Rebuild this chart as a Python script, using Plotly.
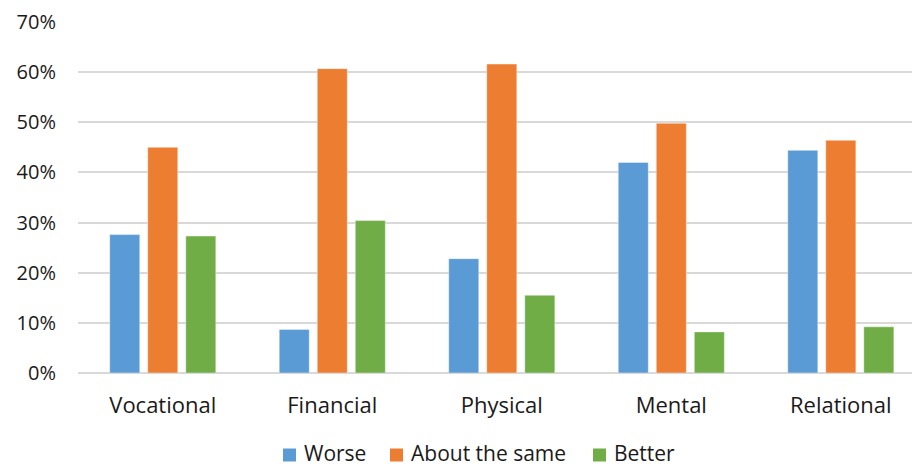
import plotly.graph_objects as go

categories = ["Vocational", "Financial", "Physical", "Mental", "Relational"]
worse = [0.276, 0.087, 0.228, 0.420, 0.444]
same = [0.450, 0.607, 0.616, 0.498, 0.464]
better = [0.273, 0.304, 0.155, 0.082, 0.092]
series_names = ["Worse", "About the same", "Better"]
colors = ["#5B9BD5", "#ED7D31", "#70AD47"]
y_ticks = [0, 0.1, 0.2, 0.3, 0.4, 0.5, 0.6, 0.7]
y_tick_labels = ["0%", "10%", "20%", "30%", "40%", "50%", "60%", "70%"]

FONT = "Open Sans"
W, H = 912, 468
ML, MR, MT, MB = 78, 0, 22, 95
PW, PH = W - ML - MR, H - MT - MB


def px_x(px):
    return (px - ML) / PW


def px_y(py):
    return (H - MB - py) / PH


fig = go.Figure()
for name, vals, col in zip(series_names, [worse, same, better], colors):
    fig.add_trace(go.Bar(
        x=list(range(len(categories))), y=vals, name=name,
        marker=dict(color=col, line=dict(width=0.8, color="rgba(255,255,255,0.5)")),
        showlegend=False,
    ))

# legend drawn as shapes + text
legend_sq_x = [283, 390, 593]
legend_text_x = [303, 410, 613]
legend_cy = 455
for name, col, sx, tx in zip(series_names, colors, legend_sq_x, legend_text_x):
    fig.add_shape(type="rect", xref="paper", yref="paper",
                  x0=px_x(sx), x1=px_x(sx + 13),
                  y0=px_y(legend_cy + 6.5), y1=px_y(legend_cy - 6.5),
                  fillcolor=col, line=dict(width=0))
    fig.add_annotation(xref="paper", yref="paper", x=px_x(tx), y=px_y(H - 0.5),
                       xanchor="left", yanchor="bottom", showarrow=False,
                       borderpad=0, text=name,
                       font=dict(size=21, color="#1a1a1a"))

fig.update_layout(
    width=W, height=H,
    margin=dict(l=ML, r=MR, t=MT, b=MB),
    paper_bgcolor="white", plot_bgcolor="white",
    barmode="group", bargap=0.327, bargroupgap=0.21,
    font=dict(family=FONT, size=20, color="#1a1a1a"),
    showlegend=False,
    xaxis=dict(
        range=[-0.5, 4.42], tickmode="array",
        tickvals=list(range(len(categories))), ticktext=categories,
        showgrid=False, zeroline=False, showline=False, ticks="",
        tickfont=dict(size=22, color="#1a1a1a"),
        ticklabelstandoff=17,
    ),
    yaxis=dict(
        range=[0, 0.7], tickmode="array", tickvals=y_ticks, ticktext=y_tick_labels,
        showgrid=True, gridcolor="#D9D9D9", gridwidth=1.5,
        zeroline=True, zerolinecolor="#D9D9D9", zerolinewidth=1.5,
        showline=False, ticks="", ticklen=0,
        tickfont=dict(size=20, color="#1a1a1a"),
        ticklabelstandoff=21,
    ),
)

fig.write_html("out.html")
